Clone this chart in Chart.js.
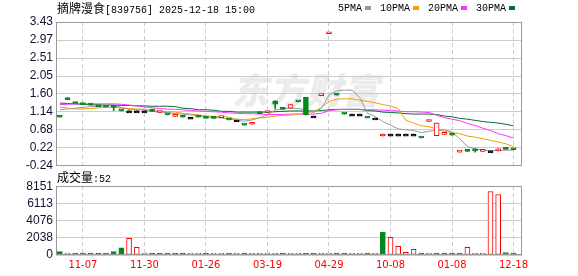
<!DOCTYPE html>
<html>
<head>
<meta charset="utf-8">
<script src="https://cdn.jsdelivr.net/npm/chart.js@4.4.1/dist/chart.umd.min.js"></script>
<style>
  body { margin: 0; background: #fff; width: 578px; height: 276px; position: relative; overflow: hidden; }
  .abs { position: absolute; white-space: nowrap; line-height: 1; }
  .mono { font-family: "Liberation Mono", monospace; font-size: 10px; color: #000; }
  .cjk { font-family: "Noto Sans CJK SC", sans-serif; font-size: 12px; }
  #mark { left: 232px; top: 70px; font-family: "Noto Sans CJK SC"; font-weight: 900; font-style: italic; font-size: 36px; color: #ebebeb; letter-spacing: 1px; }
  canvas { position: absolute; left: 0; }
  #legend span.k { display: inline-block; width: 6px; height: 4px; margin: 0 9px 1px 3px; vertical-align: middle; }
</style>
</head>
<body>
<div id="mark" class="abs">东方财富</div>
<canvas id="priceChart" width="578" height="176" style="top:0"></canvas>
<canvas id="volChart" width="578" height="100" style="top:176px"></canvas>
<div id="title" class="abs mono" style="left:57px;top:2px"><span class="cjk">摘牌漫食</span>[839756] 2025-12-18 15:00</div>
<div id="legend" class="abs mono" style="left:338px;top:4px"></div>
<div id="volTitle" class="abs mono" style="left:57px;top:171px"><span class="cjk">成交量</span>:52</div>
<script>
const tickIdx = [3, 11, 19, 27, 35, 43, 51, 59];
const dateLabels = ['11-07', '11-30', '01-26', '03-19', '04-29', '10-08', '01-08', '12-18'];
const priceTicks = [-0.24, 0.22, 0.68, 1.14, 1.60, 2.05, 2.51, 2.97, 3.43];
const volTicks = [0, 2038, 4076, 6113, 8151];
const closeBefore = 1.05;

const opens = [
  1.01,1.49,1.37,1.33,1.32,1.28,1.27,1.28,1.17,1.16,
  1.16,1.16,1.16,1.12,1.07,1.02,1.01,1.00,1.01,0.98,
  0.98,0.99,0.94,0.93,0.81,0.82,1.10,1.12,1.42,1.21,
  1.23,1.40,1.51,1.03,1.55,3.13,1.57,1.09,1.08,1.08,
  0.99,0.98,0.52,0.57,0.57,0.57,0.57,0.48,0.89,0.53,
  0.56,0.55,0.11,0.17,0.19,0.13,0.14,0.14,0.19,0.18];
const closes = [
  1.00,1.45,1.35,1.32,1.31,1.27,1.26,1.25,1.16,1.16,
  1.16,1.16,1.15,1.13,1.06,1.03,1.00,1.00,1.00,0.97,
  0.97,1.00,0.93,0.93,0.80,0.83,1.09,1.13,1.33,1.20,
  1.32,1.39,1.06,1.03,1.56,3.14,1.56,1.08,1.08,1.08,
  0.98,0.98,0.57,0.57,0.57,0.57,0.57,0.47,0.90,0.85,
  0.57,0.54,0.12,0.13,0.14,0.14,0.14,0.19,0.18,0.17];
const highs = [
  1.01,1.49,1.37,1.33,1.32,1.28,1.27,1.28,1.17,1.16,
  1.16,1.16,1.16,1.13,1.07,1.03,1.01,1.00,1.01,0.98,
  0.98,1.00,0.94,0.93,0.81,0.83,1.10,1.13,1.42,1.21,
  1.32,1.40,1.51,1.03,1.56,3.14,1.57,1.09,1.08,1.08,
  0.99,0.98,0.57,0.57,0.57,0.57,0.57,0.48,0.90,0.85,
  0.57,0.55,0.12,0.17,0.19,0.14,0.14,0.19,0.19,0.18];
const lows = [
  1.00,1.45,1.35,1.32,1.31,1.27,1.26,1.17,1.16,1.16,
  1.16,1.16,1.15,1.12,1.06,1.02,1.00,1.00,1.00,0.97,
  0.97,0.99,0.93,0.93,0.80,0.82,1.09,1.12,1.21,1.20,
  1.23,1.39,1.06,1.03,1.55,3.13,1.56,1.08,1.08,1.08,
  0.98,0.98,0.52,0.57,0.57,0.57,0.57,0.47,0.89,0.53,
  0.56,0.54,0.11,0.13,0.11,0.13,0.14,0.14,0.18,0.17];
const volumes = [
  400,30,20,20,15,20,25,400,860,1970,
  910,30,20,25,20,30,20,15,20,25,
  20,30,20,15,20,30,25,20,30,20,
  30,20,30,20,25,30,20,25,20,15,
  20,20,2716,2090,1030,320,670,20,25,20,
  30,20,30,910,240,20,7520,7170,300,52];

const ma5 = [
  1.19,1.21,1.23,1.25,1.27,1.28,1.29,1.30,1.25,1.20,
  1.19,1.19,1.15,1.13,1.12,1.09,1.08,1.06,1.04,1.01,
  0.99,0.98,0.96,0.92,0.90,0.93,0.99,1.06,1.18,1.22,
  1.23,1.22,1.20,1.12,1.22,1.56,1.67,1.69,1.69,1.50,
  1.10,1.02,0.89,0.80,0.70,0.68,0.66,0.61,0.64,0.67,
  0.68,0.62,0.45,0.25,0.19,0.16,0.15,0.15,0.16,0.16];
const ma10 = [
  1.26,1.23,1.21,1.21,1.22,1.24,1.25,1.25,1.24,1.22,
  1.21,1.20,1.17,1.15,1.14,1.13,1.10,1.08,1.06,1.03,
  1.02,1.02,1.00,0.95,0.94,0.96,0.98,1.00,1.03,1.05,
  1.05,1.08,1.12,1.14,1.25,1.40,1.46,1.47,1.47,1.44,
  1.40,1.37,1.32,1.29,1.22,0.92,0.85,0.78,0.76,0.70,
  0.64,0.61,0.58,0.52,0.49,0.45,0.41,0.37,0.32,0.25];
const ma20 = [
  1.32,1.33,1.34,1.34,1.34,1.34,1.34,1.34,1.33,1.31,
  1.29,1.26,1.24,1.22,1.21,1.20,1.19,1.17,1.16,1.15,
  1.14,1.13,1.11,1.10,1.09,1.09,1.08,1.07,1.07,1.07,
  1.08,1.08,1.08,1.08,1.10,1.17,1.19,1.20,1.20,1.20,
  1.19,1.19,1.18,1.17,1.16,1.14,1.14,1.13,1.12,1.05,
  0.99,0.95,0.91,0.84,0.79,0.72,0.66,0.58,0.53,0.47];
const ma30 = [
  1.36,1.35,1.34,1.33,1.32,1.31,1.31,1.31,1.30,1.30,
  1.29,1.29,1.28,1.28,1.28,1.27,1.23,1.22,1.19,1.19,
  1.18,1.15,1.15,1.13,1.13,1.13,1.13,1.13,1.14,1.15,
  1.16,1.16,1.16,1.16,1.17,1.19,1.20,1.20,1.20,1.20,
  1.17,1.16,1.13,1.12,1.11,1.09,1.08,1.08,1.08,1.07,
  1.03,1.01,0.97,0.95,0.92,0.89,0.87,0.85,0.82,0.78];

const maNames = ['5PMA', '10PMA', '20PMA', '30PMA'];
const maSeries = [ma5, ma10, ma20, ma30];
const maColors = ['#999999', '#f0a000', '#ff33ff', '#006f30'];

const RED = '#ff0000', GREEN = '#008a1e';
const GRID = '#cccccc';

document.getElementById('legend').innerHTML = maNames
  .map((n, i) => `${n}<span class="k" style="background:${maColors[i]}"></span>`).join('');

const candleDir = i => closes[i] > opens[i] ? 1 : (closes[i] < opens[i] ? -1 : 0);
const volUp = i => closes[i] >= (i ? closes[i - 1] : closeBefore);
const dirColor = d => d > 0 ? RED : (d < 0 ? GREEN : '#000');

// grey frame round the plot area
const frame = {
  id: 'frame',
  afterDraw(chart) {
    const a = chart.chartArea, ctx = chart.ctx;
    ctx.save();
    ctx.strokeStyle = '#999';
    ctx.lineWidth = 1;
    ctx.strokeRect(Math.round(a.left) + 0.5, Math.round(a.top) + 0.5,
      Math.round(a.right - a.left) - 1, Math.round(a.bottom - a.top) - 1);
    ctx.restore();
  }
};

function xAxis(showLabels, height) {
  return {
    type: 'linear', min: -0.5, max: 60.1, offset: false,
    afterBuildTicks: s => { s.ticks = tickIdx.map(v => ({ value: v })); },
    afterFit: s => { s.height = height; },
    ticks: {
      display: showLabels, autoSkip: false, maxRotation: 0, padding: 4,
      color: RED, font: { family: 'DejaVu Sans', size: 10 },
      callback: v => dateLabels[tickIdx.indexOf(v)]
    },
    grid: { color: GRID, drawTicks: false, offset: false },
    border: { display: false, dash: [4, 3] }
  };
}

function yAxis(min, max, ticks, fmt) {
  return {
    min: min, max: max,
    afterBuildTicks: s => { s.ticks = ticks.map(v => ({ value: v })); },
    afterFit: s => { s.width = 56; },
    ticks: {
      padding: 3, color: '#111133', autoSkip: false,
      font: { family: 'Liberation Sans', size: 12 },
      callback: fmt
    },
    grid: { color: GRID, drawTicks: false },
    border: { display: false }
  };
}

const idx = closes.map((_, i) => i);

new Chart(document.getElementById('priceChart'), {
  type: 'bar',
  data: {
    datasets: [
      {
        type: 'bar', order: 0, grouped: false,
        data: idx.map(i => ({ x: i, y: [opens[i], closes[i]] })),
        barThickness: 5, minBarLength: 2, borderWidth: 1, borderSkipped: false,
        backgroundColor: c => candleDir(c.dataIndex) > 0 ? '#fff' : dirColor(candleDir(c.dataIndex)),
        borderColor: c => dirColor(candleDir(c.dataIndex))
      },
      {
        type: 'bar', order: 1, grouped: false,
        data: idx.map(i => ({ x: i, y: [lows[i], highs[i]] })),
        barThickness: 1, borderWidth: 0,
        backgroundColor: c => dirColor(candleDir(c.dataIndex))
      },
      ...maSeries.map((s, k) => ({
        type: 'line', order: 2 + k,
        data: s.map((v, i) => ({ x: i, y: v })),
        borderColor: maColors[k], borderWidth: 1, pointRadius: 0, tension: 0
      }))
    ]
  },
  options: {
    responsive: false, animation: false,
    layout: { padding: { top: 22, right: 56, bottom: 10, left: 0 } },
    plugins: { legend: { display: false }, tooltip: { enabled: false } },
    scales: {
      x: xAxis(false, 0),
      y: yAxis(-0.24, 3.43, priceTicks, v => v.toFixed(2))
    }
  },
  plugins: [frame]
});

new Chart(document.getElementById('volChart'), {
  type: 'bar',
  data: {
    datasets: [{
      data: idx.map(i => ({ x: i, y: volumes[i] })),
      barThickness: 5, minBarLength: 2, borderWidth: 1, borderSkipped: false,
      backgroundColor: c => volUp(c.dataIndex) ? '#fff' : GREEN,
      borderColor: c => volUp(c.dataIndex) ? RED : GREEN
    }]
  },
  options: {
    responsive: false, animation: false,
    layout: { padding: { top: 10, right: 56, bottom: 0, left: 0 } },
    plugins: { legend: { display: false }, tooltip: { enabled: false } },
    scales: {
      x: xAxis(true, 21),
      y: yAxis(0, 8151, volTicks, v => String(v))
    }
  },
  plugins: [frame]
});
</script>
</body>
</html>
